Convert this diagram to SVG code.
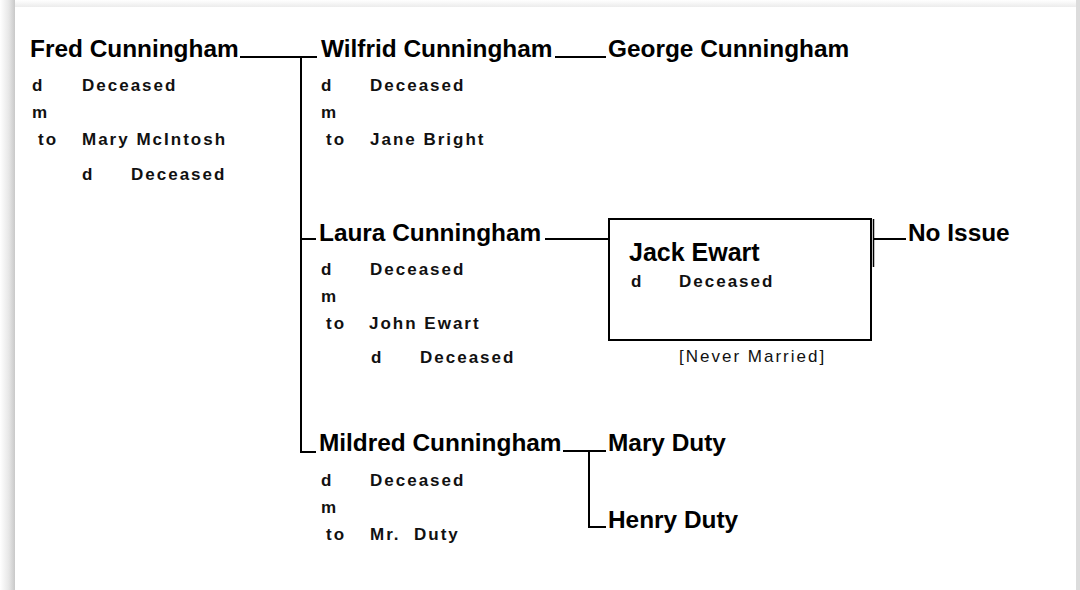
<svg xmlns="http://www.w3.org/2000/svg" width="1080" height="590" viewBox="0 0 1080 590">
<defs>
<linearGradient id="lsh" x1="0" y1="0" x2="1" y2="0">
<stop offset="0" stop-color="#ffffff"/>
<stop offset="0.6" stop-color="#e6e6e6"/>
<stop offset="1" stop-color="#c8c8c8"/>
</linearGradient>
<linearGradient id="tsh" x1="0" y1="0" x2="0" y2="1">
<stop offset="0" stop-color="#ffffff"/>
<stop offset="1" stop-color="#ececec"/>
</linearGradient>
<style>
.h{font-family:"Liberation Sans",Arial,sans-serif;font-weight:bold;font-size:24.4px;fill:#000}
.s{font-family:"Liberation Sans",Arial,sans-serif;font-weight:bold;font-size:17px;letter-spacing:2px;fill:#111}
.n{font-family:"Liberation Sans",Arial,sans-serif;font-size:17px;letter-spacing:2px;fill:#111}
.ln{stroke:#000;stroke-width:2;fill:none}
</style>
</defs>
<rect x="0" y="0" width="1080" height="590" fill="#ffffff"/>
<rect x="0" y="0" width="15" height="590" fill="url(#lsh)"/>
<rect x="15" y="0" width="1065" height="7" fill="url(#tsh)"/>
<rect x="1076" y="0" width="4" height="590" fill="#dcdcdc"/>
<rect x="15" y="7" width="1061" height="590" fill="#ffffff"/>

<g id="connectors">
<path class="ln" d="M240 57 H317 M301 56 V452 H316 M301 239 H316"/>
<path class="ln" d="M555 57 H606"/>
<path class="ln" d="M545 239 H608"/>
<path class="ln" d="M874 239 H906"/>
<path class="ln" d="M563 451 H606 M589 450 V527 H606"/>
</g>

<g id="fred">
<text class="h" x="30" y="57">Fred Cunningham</text>
<text class="s" x="32" y="91">d</text><text class="s" x="82" y="91">Deceased</text>
<text class="s" x="32" y="118">m</text>
<text class="s" x="38" y="145">to</text><text class="s" x="82" y="145">Mary McIntosh</text>
<text class="s" x="82" y="180">d</text><text class="s" x="131" y="180">Deceased</text>
</g>

<g id="wilfrid">
<text class="h" x="321" y="57">Wilfrid Cunningham</text>
<text class="s" x="321" y="91">d</text><text class="s" x="370" y="91">Deceased</text>
<text class="s" x="321" y="118">m</text>
<text class="s" x="326" y="145">to</text><text class="s" x="370" y="145">Jane Bright</text>
</g>

<g id="george">
<text class="h" x="608" y="57">George Cunningham</text>
</g>

<g id="laura">
<text class="h" x="319" y="241">Laura Cunningham</text>
<text class="s" x="321" y="275">d</text><text class="s" x="370" y="275">Deceased</text>
<text class="s" x="321" y="302">m</text>
<text class="s" x="326" y="329">to</text><text class="s" x="369" y="329">John Ewart</text>
<text class="s" x="371" y="363">d</text><text class="s" x="420" y="363">Deceased</text>
</g>

<g id="jack">
<rect x="609" y="219" width="262" height="121" fill="#ffffff" stroke="#000" stroke-width="2"/>
<line x1="873.5" y1="219" x2="873.5" y2="267" stroke="#000" stroke-width="1.5"/>
<text class="h" x="629" y="261" style="font-size:25px">Jack Ewart</text>
<text class="s" x="631" y="287">d</text><text class="s" x="679" y="287">Deceased</text>
<text class="n" x="679" y="362">[Never Married]</text>
</g>

<g id="noissue">
<text class="h" x="908" y="241">No Issue</text>
</g>

<g id="mildred">
<text class="h" x="319" y="451">Mildred Cunningham</text>
<text class="s" x="321" y="486">d</text><text class="s" x="370" y="486">Deceased</text>
<text class="s" x="321" y="513">m</text>
<text class="s" x="326" y="540">to</text><text class="s" x="370" y="540" xml:space="preserve">Mr.  Duty</text>
</g>

<g id="maryduty">
<text class="h" x="608" y="451">Mary Duty</text>
</g>

<g id="henryduty">
<text class="h" x="608" y="528">Henry Duty</text>
</g>
</svg>
